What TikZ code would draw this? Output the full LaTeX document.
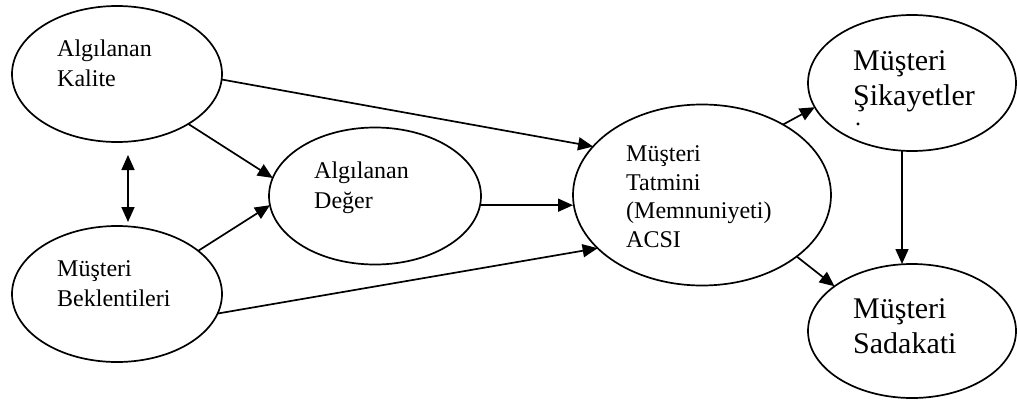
\documentclass[tikz,border=0pt]{standalone}
\usepackage{fontspec}
\setmainfont{Liberation Serif}
\usetikzlibrary{shapes.geometric,arrows.meta,calc}
\begin{document}
\begin{tikzpicture}[x=1pt,y=-1pt,
  oval/.style={draw,ellipse,line width=1.7pt,inner sep=0pt,outer sep=0pt},
  lbl/.style={anchor=base west,inner sep=0pt,align=left,font=\fontsize{24}{29.5}\selectfont},
  biglbl/.style={anchor=base west,inner sep=0pt,align=left,font=\fontsize{30}{35}\selectfont},
  tip/.tip={Triangle[length=15pt,width=13pt]},
  conn/.style={line width=1.7pt,-tip}]
\useasboundingbox (0,0) rectangle (1017,402);
\node[oval,minimum width=210pt,minimum height=136pt] (kal) at (117,74) {};
\node[oval,minimum width=210pt,minimum height=136pt] (bek) at (117,294) {};
\node[oval,minimum width=212pt,minimum height=137pt] (deg) at (375,196) {};
\node[oval,minimum width=258pt,minimum height=181pt] (tat) at (702,195) {};
\node[oval,minimum width=208pt,minimum height=136pt] (sik) at (912,83) {};
\node[oval,minimum width=208pt,minimum height=134pt] (sad) at (912,331) {};
\node[lbl] (tkal) at (57,86) {Algılanan\\Kalite};
\node[lbl] (tbek) at (57,306) {Müşteri\\Beklentileri};
\node[lbl] (tdeg) at (314,208) {Algılanan\\Değer};
\node[lbl,font=\fontsize{24}{28.5}\selectfont] (ttat) at (626,247) {Müşteri\\Tatmini\\(Memnuniyeti)\\ACSI};
\node[biglbl] (tsik) at (853,105) {Müşteri\\Şikayetler};
\node[anchor=base west,inner sep=0pt,font=\fontsize{24}{24}\selectfont] (tdot) at (855,125) {.};
\node[biglbl] (tsad) at (853,353) {Müşteri\\Sadakati};
\draw[conn] (kal.-3) -- (tat.156);
\draw[conn] (kal.-35) -- (deg.170);
\draw[conn] (bek.28.5) -- (deg.185);
\draw[conn] (bek.-11) -- (tat.207);
\draw[conn] (deg.-5) -- (deg.-5 -| tat.west);
\draw[conn] (tat.41) -- (sik.194);
\draw[conn] (tat.-33) -- (sad.150);
\draw[conn] ($(sik.south)+(-10,0)$) -- ($(sad.north)+(-10,0)$);
\draw[line width=1.7pt,tip-tip] ($(kal.south)+(11,13)$) -- ($(bek.north)+(11,-4)$);
\end{tikzpicture}
\end{document}
